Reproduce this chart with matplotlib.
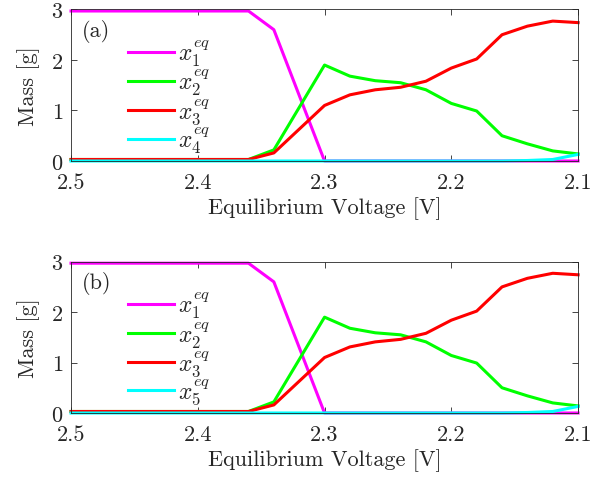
import matplotlib
matplotlib.use("Agg")
import matplotlib.pyplot as plt

plt.rcParams['font.family'] = 'cmr10'
plt.rcParams['mathtext.fontset'] = 'cm'
plt.rcParams['axes.formatter.use_mathtext'] = True

voltage = [2.50, 2.48, 2.46, 2.44, 2.42, 2.40, 2.38, 2.36, 2.34, 2.32, 2.30, 2.28, 2.26,
           2.24, 2.22, 2.20, 2.18, 2.16, 2.14, 2.12, 2.10]
x1 = [2.97, 2.97, 2.97, 2.97, 2.97, 2.97, 2.97, 2.97, 2.60, 1.30, 0.0, 0.0, 0.0,
      0.0, 0.0, 0.0, 0.0, 0.0, 0.0, 0.0, 0.0]
x2 = [0.03, 0.03, 0.03, 0.03, 0.03, 0.03, 0.03, 0.03, 0.22, 1.06, 1.90, 1.68, 1.59,
      1.55, 1.41, 1.14, 0.99, 0.50, 0.34, 0.20, 0.14]
x3 = [0.03, 0.03, 0.03, 0.03, 0.03, 0.03, 0.03, 0.03, 0.16, 0.63, 1.10, 1.31, 1.41,
      1.46, 1.58, 1.84, 2.02, 2.50, 2.67, 2.77, 2.74]
x4 = [0.0, 0.0, 0.0, 0.0, 0.0, 0.0, 0.0, 0.0, 0.0, 0.0, 0.0, 0.0, 0.0,
      0.0, 0.0, 0.0, 0.0, 0.0, 0.01, 0.03, 0.13]

panels = ['(a)', '(b)']
labels_a = [r'$x_1^{eq}$', r'$x_2^{eq}$', r'$x_3^{eq}$', r'$x_4^{eq}$']
labels_b = [r'$x_1^{eq}$', r'$x_2^{eq}$', r'$x_3^{eq}$', r'$x_5^{eq}$']
colors = ['#FF00FF', '#00FF00', '#FF0000', '#00FFFF']
xticks = [2.5, 2.4, 2.3, 2.2, 2.1]
yticks = [0, 1, 2, 3]

fig = plt.figure(figsize=(6.08, 4.81), dpi=100)
positions = [[0.1168, 0.6632, 0.834, 0.315], [0.1168, 0.1393, 0.834, 0.3146]]
tc = '#262626'
fs = 16
for pos, panel, labels in zip(positions, panels, [labels_a, labels_b]):
    ax = fig.add_axes(pos)
    for y, c, lab in zip([x1, x2, x3, x4], colors, labels):
        ax.plot(voltage, y, color=c, lw=2.2, label=lab, clip_on=False)
    ax.set_xlim(2.5, 2.1)
    ax.set_ylim(0, 3)
    ax.set_xticks(xticks)
    ax.set_xticklabels([f'{v:.1f}' for v in xticks])
    ax.set_yticks(yticks)
    ax.set_yticklabels([str(v) for v in yticks])
    ax.tick_params(direction='in', top=True, right=True, length=4, labelsize=fs,
                   colors=tc, width=0.6)
    ax.tick_params(axis='x', pad=8)
    ax.tick_params(axis='y', pad=6)
    for s in ax.spines.values():
        s.set_color(tc)
        s.set_linewidth(0.6)
    ax.set_xlabel('Equilibrium Voltage [V]', fontsize=fs, color=tc, labelpad=3)
    ax.set_ylabel('Mass [g]', fontsize=fs, color=tc, labelpad=8)
    ax.text(0.022, 0.86, panel, transform=ax.transAxes, fontsize=fs, color=tc,
            va='center', ha='left')
    leg = ax.legend(loc='upper left', bbox_to_anchor=(0.113, 0.81), frameon=False,
                    fontsize=17, handlelength=1.95, handletextpad=0.15,
                    labelspacing=-0.04, borderaxespad=0, borderpad=0)
    for t in leg.get_texts():
        t.set_color(tc)

fig.savefig('out.png', dpi=100)
